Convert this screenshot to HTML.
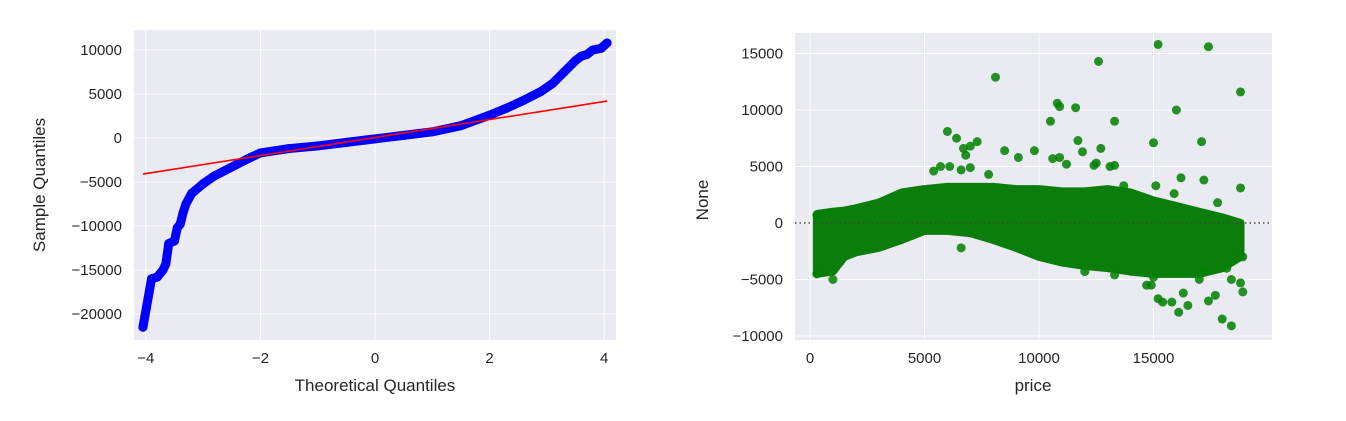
<!DOCTYPE html>
<html><head><meta charset="utf-8">
<style>
body{margin:0;background:#fff;}
svg text{font-family:"Liberation Sans",sans-serif;fill:#262626;}
</style></head>
<body>
<svg id="s" width="1346" height="416" xmlns="http://www.w3.org/2000/svg">
<g id="left"></g>
<g id="right"></g>
</svg>
<script>
// QQ plot data
const qqTheo=[-4.05,-3.9,-3.8,-3.7,-3.65,-3.6,-3.5,-3.45,-3.4,-3.35,-3.3,-3.2,-3.0,-2.8,-2.5,-2.2,-2.0,-1.5,-1.0,-0.5,0,0.5,1.0,1.5,2.0,2.3,2.6,2.9,3.1,3.3,3.5,3.6,3.7,3.8,3.95,4.05];
const qqSample=[-21500,-16000,-15800,-15000,-14300,-12000,-11700,-10200,-9800,-8500,-7500,-6300,-5200,-4300,-3300,-2300,-1700,-1200,-900,-500,-100,300,700,1400,2600,3400,4300,5300,6200,7500,8800,9300,9500,10000,10200,10800];
const qqLineX=[-4.05,4.05];
const qqLineY=[-4100,4200];
const qqXTicks=[-4,-2,0,2,4];
const qqYTicks=[10000,5000,0,-5000,-10000,-15000,-20000];
// Residual plot data
const envPrice=[300,1000,1500,2000,3000,4000,5000,6000,7000,8000,9000,10000,11000,12000,13000,14000,15000,16000,17000,18000,18800];
const envUpper=[800,1000,1100,1300,1800,2700,3000,3200,3200,3200,3000,3000,2800,2800,3000,2700,2000,1500,1000,500,0];
const envLower=[-4500,-4300,-3000,-2600,-2200,-1500,-700,-700,-900,-1500,-2200,-3000,-3500,-3800,-4000,-4300,-4500,-4500,-4500,-4000,-3000];
const outPrice=[8100,12600,15200,17400,18800,10800,10900,11600,16000,10500,13300,6000,6400,6700,7300,7000,6800,8500,9100,9800,11700,11900,12700,15000,17100,10600,10900,11200,12400,12500,13100,13300,5400,5700,6100,6600,7000,7800,16200,17200,18800,15900,17800,13700,15100,14900,15000,15200,15400,15800,16100,16300,16500,17400,17700,18000,18400,18900,18800,18400,14700,17000,6600,12000,13300,1000,18200,17200,300,300,18900];
const outResid=[12900,14300,15800,15600,11600,10600,10300,10200,10000,9000,9000,8100,7500,6600,7200,6800,6000,6400,5800,6400,7300,6300,6600,7100,7200,5700,5800,5200,5100,5300,5000,5100,4600,5000,5000,4700,4900,4300,4000,3800,3100,2600,1800,3300,3300,-5500,-4800,-6700,-7000,-7000,-7900,-6200,-7300,-6900,-6400,-8500,-9100,-6100,-5300,-5000,-5500,-5000,-2200,-4300,-4600,-5000,-4000,-4200,-4500,700,-3000];
const rXTicks=[0,5000,10000,15000];
const rYTicks=[15000,10000,5000,0,-5000,-10000];

const NS='http://www.w3.org/2000/svg';
function mk(p,t,a){const e=document.createElementNS(NS,t);for(const k in a)e.setAttribute(k,a[k]);p.appendChild(e);return e;}

// ---- Left
const L=document.getElementById('left');
const lx=q=>375+q*57.3, ly=v=>138-v*0.0088;
let bg=mk(L,'rect',{x:134,y:30,width:482,height:310,fill:'#eaeaf2'});


qqXTicks.forEach(t=>{
  mk(L,'line',{x1:lx(t),x2:lx(t),y1:30,y2:340,stroke:'#fff','stroke-width':1});
  let tx=mk(L,'text',{x:lx(t),y:363,'font-size':15,'text-anchor':'middle'});tx.textContent=(t<0?'\u2212'+(-t):t);
  
  
});
qqYTicks.forEach(t=>{
  mk(L,'line',{x1:134,x2:616,y1:ly(t),y2:ly(t),stroke:'#fff','stroke-width':1});
  let tx=mk(L,'text',{x:122,y:ly(t)+5,'font-size':15,'text-anchor':'end'});tx.textContent=(t<0?'\u2212'+(-t):t);
  
  
});
let band=mk(L,'polyline',{points:qqTheo.map((q,i)=>lx(q)+','+ly(qqSample[i])).join(' '),fill:'none',stroke:'#0000ff','stroke-width':9,'stroke-linecap':'round','stroke-linejoin':'round'});


qqTheo.forEach((q,i)=>{
  let c=mk(L,'circle',{cx:lx(q),cy:ly(qqSample[i]),r:4.5,fill:'#0000ff'});
  
  
});
let rl=mk(L,'line',{x1:lx(qqLineX[0]),y1:ly(qqLineY[0]),x2:lx(qqLineX[1]),y2:ly(qqLineY[1]),stroke:'#ff0000','stroke-width':1.6});


let xl=mk(L,'text',{x:375,y:391,'font-size':17,'text-anchor':'middle'});xl.textContent='Theoretical Quantiles';


let yl=mk(L,'text',{x:45,y:185,'font-size':17,'text-anchor':'middle',transform:'rotate(-90 45 185)'});yl.textContent='Sample Quantiles';



// ---- Right
const R=document.getElementById('right');
const rx=p=>810+p*0.0229, ry=v=>223-v*0.0113;
let bg2=mk(R,'rect',{x:795,y:33,width:477,height:307,fill:'#eaeaf2'});


rXTicks.forEach(t=>{
  mk(R,'line',{x1:rx(t),x2:rx(t),y1:33,y2:340,stroke:'#fff','stroke-width':1});
  let tx=mk(R,'text',{x:rx(t),y:363,'font-size':15,'text-anchor':'middle'});tx.textContent=t;
  
  
});
rYTicks.forEach(t=>{
  mk(R,'line',{x1:795,x2:1272,y1:ry(t),y2:ry(t),stroke:'#fff','stroke-width':1});
  let tx=mk(R,'text',{x:783,y:ry(t)+5,'font-size':15,'text-anchor':'end'});tx.textContent=(t<0?'\u2212'+(-t):t);
  
  
});
const pts=envPrice.map((p,i)=>rx(p)+','+ry(envUpper[i])).concat(envPrice.slice().reverse().map((p,i)=>rx(p)+','+ry(envLower[envLower.length-1-i])));
let env=mk(R,'polygon',{points:pts.join(' '),fill:'#0a7d0a',stroke:'#0a7d0a','stroke-width':8,'stroke-linejoin':'round'});


outPrice.forEach((p,i)=>{
  let c=mk(R,'circle',{cx:rx(p),cy:ry(outResid[i]),r:4.5,fill:'#008000','fill-opacity':0.85});
  
  
});
let zl=mk(R,'line',{x1:795,x2:1272,y1:ry(0),y2:ry(0),stroke:'#444','stroke-width':1.5,'stroke-dasharray':'1.5,3'});


let xl2=mk(R,'text',{x:1033,y:391,'font-size':17,'text-anchor':'middle'});xl2.textContent='price';


let yl2=mk(R,'text',{x:708,y:200,'font-size':17,'text-anchor':'middle',transform:'rotate(-90 708 200)'});yl2.textContent='None';


</script>
</body></html>
